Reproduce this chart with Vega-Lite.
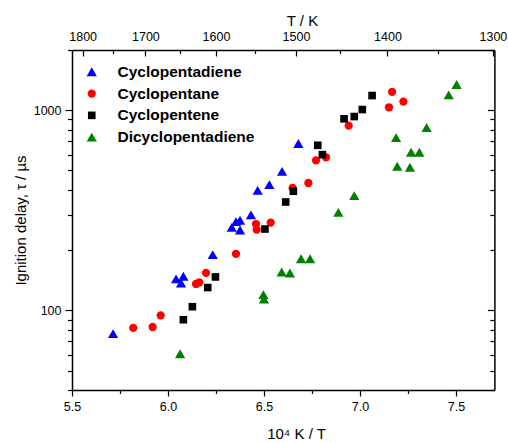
{
  "$schema": "https://vega.github.io/schema/vega-lite/v6.json",
  "width": 422.4,
  "height": 340,
  "autosize": {"type": "none"},
  "padding": {"left": 72, "top": 50, "right": 13.6, "bottom": 53},
  "background": "white",
  "config": {
    "view": {"stroke": null},
    "font": "Liberation Sans",
    "axis": {
      "domainColor": "black", "domainWidth": 1.5,
      "tickColor": "black", "tickWidth": 1.2,
      "labelColor": "black", "titleColor": "black",
      "labelFont": "Liberation Sans", "titleFont": "Liberation Sans",
      "labelFontSize": 12.5, "titleFontSize": 15, "titleFontWeight": "normal",
      "grid": false
    }
  },
  "data": {"values": [
    {"s": "Cyclopentadiene", "x": 5.714, "t": 76.5},
    {"s": "Cyclopentadiene", "x": 6.042, "t": 143.6},
    {"s": "Cyclopentadiene", "x": 6.068, "t": 137},
    {"s": "Cyclopentadiene", "x": 6.080, "t": 148},
    {"s": "Cyclopentadiene", "x": 6.233, "t": 190},
    {"s": "Cyclopentadiene", "x": 6.332, "t": 260},
    {"s": "Cyclopentadiene", "x": 6.354, "t": 277.6},
    {"s": "Cyclopentadiene", "x": 6.375, "t": 282},
    {"s": "Cyclopentadiene", "x": 6.375, "t": 252},
    {"s": "Cyclopentadiene", "x": 6.432, "t": 300},
    {"s": "Cyclopentadiene", "x": 6.467, "t": 398},
    {"s": "Cyclopentadiene", "x": 6.528, "t": 425},
    {"s": "Cyclopentadiene", "x": 6.594, "t": 495},
    {"s": "Cyclopentadiene", "x": 6.679, "t": 681.6},
    {"s": "Cyclopentane", "x": 5.819, "t": 81.7},
    {"s": "Cyclopentane", "x": 5.920, "t": 82.6},
    {"s": "Cyclopentane", "x": 5.962, "t": 94.4},
    {"s": "Cyclopentane", "x": 6.146, "t": 135.5},
    {"s": "Cyclopentane", "x": 6.163, "t": 138},
    {"s": "Cyclopentane", "x": 6.198, "t": 154},
    {"s": "Cyclopentane", "x": 6.354, "t": 191.4},
    {"s": "Cyclopentane", "x": 6.458, "t": 270},
    {"s": "Cyclopentane", "x": 6.462, "t": 253},
    {"s": "Cyclopentane", "x": 6.535, "t": 274.5},
    {"s": "Cyclopentane", "x": 6.649, "t": 409},
    {"s": "Cyclopentane", "x": 6.731, "t": 433},
    {"s": "Cyclopentane", "x": 6.771, "t": 562},
    {"s": "Cyclopentane", "x": 6.823, "t": 582},
    {"s": "Cyclopentane", "x": 6.941, "t": 838},
    {"s": "Cyclopentane", "x": 7.151, "t": 1035},
    {"s": "Cyclopentane", "x": 7.167, "t": 1236},
    {"s": "Cyclopentane", "x": 7.226, "t": 1105},
    {"s": "Cyclopentene", "x": 6.080, "t": 89.8},
    {"s": "Cyclopentene", "x": 6.127, "t": 104.3},
    {"s": "Cyclopentene", "x": 6.207, "t": 130},
    {"s": "Cyclopentene", "x": 6.247, "t": 146.9},
    {"s": "Cyclopentene", "x": 6.505, "t": 255},
    {"s": "Cyclopentene", "x": 6.613, "t": 348},
    {"s": "Cyclopentene", "x": 6.653, "t": 393.6},
    {"s": "Cyclopentene", "x": 6.780, "t": 668},
    {"s": "Cyclopentene", "x": 6.804, "t": 600},
    {"s": "Cyclopentene", "x": 6.917, "t": 906},
    {"s": "Cyclopentene", "x": 6.970, "t": 930},
    {"s": "Cyclopentene", "x": 7.012, "t": 1008},
    {"s": "Cyclopentene", "x": 7.063, "t": 1184},
    {"s": "Dicyclopentadiene", "x": 6.063, "t": 60.7},
    {"s": "Dicyclopentadiene", "x": 6.497, "t": 119.8},
    {"s": "Dicyclopentadiene", "x": 6.500, "t": 114},
    {"s": "Dicyclopentadiene", "x": 6.592, "t": 155.6},
    {"s": "Dicyclopentadiene", "x": 6.635, "t": 153.8},
    {"s": "Dicyclopentadiene", "x": 6.693, "t": 181},
    {"s": "Dicyclopentadiene", "x": 6.740, "t": 181},
    {"s": "Dicyclopentadiene", "x": 6.887, "t": 309},
    {"s": "Dicyclopentadiene", "x": 6.970, "t": 374.6},
    {"s": "Dicyclopentadiene", "x": 7.188, "t": 730},
    {"s": "Dicyclopentadiene", "x": 7.194, "t": 525},
    {"s": "Dicyclopentadiene", "x": 7.260, "t": 519},
    {"s": "Dicyclopentadiene", "x": 7.266, "t": 617},
    {"s": "Dicyclopentadiene", "x": 7.309, "t": 617},
    {"s": "Dicyclopentadiene", "x": 7.347, "t": 820},
    {"s": "Dicyclopentadiene", "x": 7.462, "t": 1194},
    {"s": "Dicyclopentadiene", "x": 7.503, "t": 1345}
  ]},
  "layer": [
    {
      "mark": {"type": "point", "filled": true, "opacity": 1, "strokeWidth": 0},
      "encoding": {
        "x": {
          "field": "x", "type": "quantitative",
          "scale": {"domain": [5.5, 7.7], "nice": false, "zero": false},
          "axis": {
            "orient": "bottom",
            "values": [5.5, 5.75, 6, 6.25, 6.5, 6.75, 7, 7.25, 7.5],
            "labelExpr": "round(datum.value*100) % 50 == 0 ? format(datum.value, '.1f') : ''",
            "tickSize": {"condition": {"test": "round(datum.value*100) % 50 == 0", "value": 6}, "value": 3.5},
            "labelPadding": 4,
            "labelFlush": false,
            "labelOverlap": false,
            "title": "10⁴ K / T",
            "titlePadding": 14,
            "titleX": 224,
            "titleAlign": "center"
          }
        },
        "y": {
          "field": "t", "type": "quantitative",
          "scale": {"type": "log", "domain": [40, 2000], "nice": false},
          "axis": {
            "orient": "left",
            "values": [40, 50, 60, 70, 80, 90, 100, 200, 300, 400, 500, 600, 700, 800, 900, 1000, 2000],
            "labelExpr": "datum.value == 100 || datum.value == 1000 ? format(datum.value, 'd') : ''",
            "tickSize": {"condition": {"test": "datum.value == 100 || datum.value == 1000", "value": 7}, "value": 4.5},
            "labelPadding": 4,
            "labelFlush": false,
            "labelOverlap": false,
            "title": "Ignition delay, τ / µs",
            "titlePadding": 5
          }
        },
        "color": {
          "field": "s", "type": "nominal",
          "scale": {"domain": ["Cyclopentadiene", "Cyclopentane", "Cyclopentene", "Dicyclopentadiene"], "range": ["#0000ff", "#ff0000", "#000000", "#008000"]},
          "legend": {
            "orient": "none", "legendX": 12, "legendY": 14, "title": null,
            "labelFont": "Liberation Sans", "labelFontSize": 15.5, "labelFontWeight": "bold", "labelColor": "black",
            "labelOffset": 18, "rowPadding": 4.8, "padding": 0, "symbolStrokeWidth": 0, "symbolOpacity": 1
          }
        },
        "shape": {
          "field": "s", "type": "nominal",
          "scale": {"domain": ["Cyclopentadiene", "Cyclopentane", "Cyclopentene", "Dicyclopentadiene"], "range": ["triangle-up", "circle", "square", "triangle-up"]}
        },
        "size": {
          "field": "s", "type": "nominal",
          "scale": {"type": "ordinal", "domain": ["Cyclopentadiene", "Cyclopentane", "Cyclopentene", "Dicyclopentadiene"], "range": [105, 68, 58, 105]}
        }
      }
    },
    {
      "mark": {"type": "point", "opacity": 0},
      "encoding": {
        "x": {
          "field": "x", "type": "quantitative",
          "scale": {"domain": [5.5, 7.7], "nice": false, "zero": false},
          "axis": {
            "orient": "top",
            "values": [5.555556, 5.714286, 5.882353, 6.060606, 6.25, 6.451613, 6.666667, 6.896552, 7.142857, 7.407407, 7.692308],
            "labelExpr": "round(10000/datum.value) % 100 == 0 ? format(round(10000/datum.value), 'd') : ''",
            "tickSize": {"condition": {"test": "round(10000/datum.value) % 100 == 0", "value": -6}, "value": -3.5},
            "labelPadding": 13,
            "labelFlush": false,
            "labelOverlap": false,
            "title": "T / K",
            "titleX": 230,
            "titleY": -25,
            "titleBaseline": "alphabetic",
            "titleAlign": "center"
          }
        },
        "y": {
          "field": "t", "type": "quantitative",
          "scale": {"type": "log", "domain": [40, 2000], "nice": false},
          "axis": {
            "orient": "right",
            "values": [40, 50, 60, 70, 80, 90, 100, 200, 300, 400, 500, 600, 700, 800, 900, 1000, 2000],
            "labels": false,
            "tickSize": {"condition": {"test": "datum.value == 100 || datum.value == 1000", "value": -7}, "value": -4.5},
            "title": null
          }
        }
      }
    }
  ],
  "resolve": {"axis": {"x": "independent", "y": "independent"}}
}
